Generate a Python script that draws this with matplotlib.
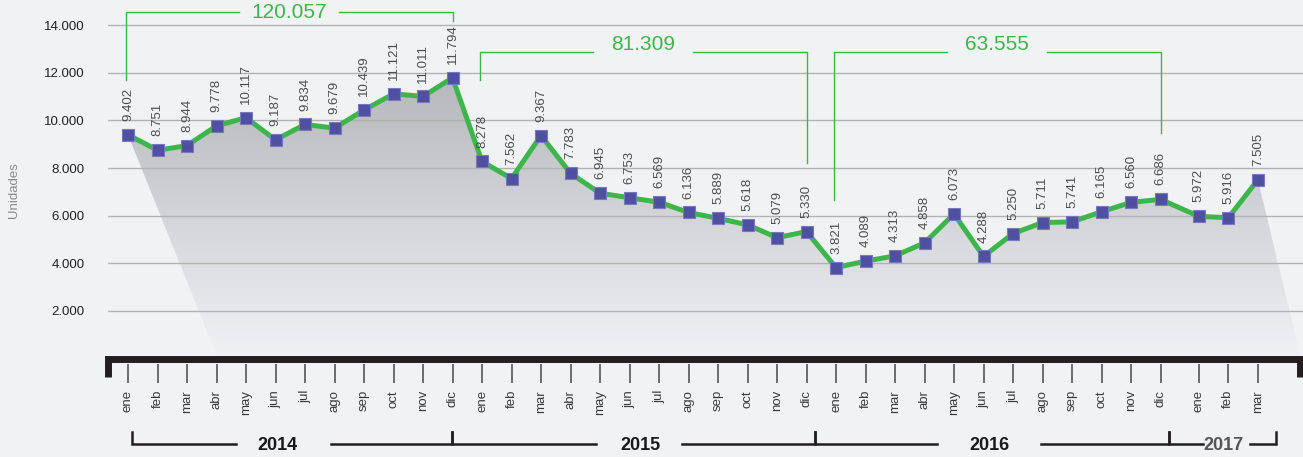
import matplotlib
matplotlib.use("Agg")
import matplotlib.pyplot as plt
import numpy as np
from matplotlib.colors import LinearSegmentedColormap
from matplotlib.patches import Polygon

# monthly units, one list per year
months = ["ene", "feb", "mar", "abr", "may", "jun", "jul", "ago", "sep", "oct", "nov", "dic"]
years = ["2014", "2015", "2016", "2017"]
units_2014 = [9402, 8751, 8944, 9778, 10117, 9187, 9834, 9679, 10439, 11121, 11011, 11794]
units_2015 = [8278, 7562, 9367, 7783, 6945, 6753, 6569, 6136, 5889, 5618, 5079, 5330]
units_2016 = [3821, 4089, 4313, 4858, 6073, 4288, 5250, 5711, 5741, 6165, 6560, 6686]
units_2017 = [5972, 5916, 7505]
y_ticks = [2000, 4000, 6000, 8000, 10000, 12000, 14000]

values = units_2014 + units_2015 + units_2016 + units_2017
month_labels = months * 3 + months[:len(units_2017)]
full_years = [units_2014, units_2015, units_2016]

BG = "#f1f2f4"
GREEN = "#3cb64b"
PURPLE = "#5050a2"
DARK = "#231f20"
SANS = ["Liberation Sans", "DejaVu Sans"]

# pixel geometry of the reference, used only for the decorations
X0_PX, STEP_PX = 128.0, 29.5
Y0_PX, PX_PER_UNIT = 358.5, 0.0238


def px_to_x(px):
    return (px - X0_PX) / STEP_PX


def px_to_y(py):
    return (Y0_PX - py) / PX_PER_UNIT


def fmt(v):
    return f"{v:,}".replace(",", ".")


x = np.arange(len(values), dtype=float)
x[36:] += 0.3  # small extra gap before 2017

fig = plt.figure(figsize=(13.03, 4.57), dpi=100, facecolor=BG)
ax = fig.add_axes([108 / 1303, 0, 1195 / 1303, 1])
ax.set_facecolor(BG)
for s in ax.spines.values():
    s.set_visible(False)

# gray shadow under the line
verts = list(zip(x, values)) + [(px_to_x(1301), 0), (px_to_x(218), 0)]
poly = Polygon(verts, closed=True, facecolor="none", edgecolor="none")
ax.add_patch(poly)
cmap = LinearSegmentedColormap.from_list("shade", [BG, "#b4b5b8"])
grad = np.linspace(0, 1, 256).reshape(-1, 1)
im = ax.imshow(grad, extent=[x[0], px_to_x(1303), 0, 12200], origin="lower",
               aspect="auto", cmap=cmap, vmin=0, vmax=1, zorder=1)
im.set_clip_path(poly)

ax.set_xlim(px_to_x(108), px_to_x(1303))
ax.set_ylim(px_to_y(457), px_to_y(0))

for v in y_ticks:
    ax.axhline(v, color="#b2b2b2", lw=1, zorder=1.5)
ax.set_xticks([])
ax.set_yticks(y_ticks)
ax.set_yticklabels([fmt(v) for v in y_ticks], fontsize=9.5, color="#222222", family=SANS)
ax.tick_params(axis="y", length=0, pad=17)
fig.text(14 / 1303, 1 - 190 / 457, "Unidades", rotation=90, ha="center", va="center",
         fontsize=9.5, color="#8a8a8a", family=SANS)

# data line and markers
ax.plot(x, values, color=GREEN, lw=3.6, zorder=4, solid_joinstyle="miter",
        marker="s", ms=8.8, mfc=PURPLE, mec="#7878bd", mew=0.8)
for xi, v in zip(x, values):
    ax.annotate(fmt(v), (xi, v), xytext=(0, 10), textcoords="offset points",
                rotation=90, ha="center", va="bottom", fontsize=9.5,
                color="#4d4d4d", family=SANS, zorder=5)

# yearly totals brackets
line_y = [px_to_y(12), px_to_y(52), px_to_y(52)]
left_end = [px_to_y(80), px_to_y(80), px_to_y(200)]
right_end = [px_to_y(21), px_to_y(163), px_to_y(133)]
text_y = [px_to_y(12), px_to_y(45), px_to_y(45)]
gap = 1.69
for i, units in enumerate(full_years):
    xs, xe = x[12 * i] - 0.08, x[12 * i + 11]
    xc = (xs + xe) / 2
    yl = line_y[i]
    ax.plot([xs, xs, xc - gap], [left_end[i], yl, yl], color=GREEN, lw=1, zorder=3, clip_on=False)
    ax.plot([xc + gap, xe, xe], [yl, yl, right_end[i]], color=GREEN, lw=1, zorder=3, clip_on=False)
    ax.text(xc, text_y[i], fmt(sum(units)), ha="center", va="center",
            fontsize=15, color=GREEN, family=SANS, clip_on=False)

# bottom axis bar with end stubs
xl, xr = px_to_x(108.5), px_to_x(1300)
ax.plot([xl, xl, xr, xr], [px_to_y(377), 0, 0, px_to_y(377)], color=DARK, lw=5,
        solid_joinstyle="miter", solid_capstyle="butt", zorder=6, clip_on=False)

# month ticks and labels
ax.vlines(x, px_to_y(364), px_to_y(383), color="#555555", lw=1.2, zorder=3)
for xi, m in zip(x, month_labels):
    ax.text(xi, px_to_y(390), m, rotation=90, ha="center", va="top", fontsize=9.5,
            color="#3a3a3a", family=SANS)

# year brackets: start, gap start, gap end, end, text position
year_specs = [
    (0.14, 3.66, 6.88, 10.98, 5.05, "#1a1a1a"),
    (10.98, 15.86, 18.78, 23.29, 17.36, "#1a1a1a"),
    (23.29, 27.42, 30.95, 35.29, 29.19, "#1a1a1a"),
    (35.29, 36.44, 38.03, 38.92, 37.15, "#555555"),
]
yb, yt = px_to_y(444), px_to_y(432)
for label, (a, g0, g1, b, tx, col) in zip(years, year_specs):
    ax.plot([a, a, g0], [yt, yb, yb], color=DARK, lw=1.8, solid_joinstyle="miter", zorder=3)
    ax.plot([g1, b, b], [yb, yb, yt], color=DARK, lw=1.8, solid_joinstyle="miter", zorder=3)
    ax.text(tx, px_to_y(446), label, ha="center", va="center", fontsize=13,
            fontweight="bold", color=col, family=SANS)

fig.savefig("out.png", dpi=100, facecolor=BG)
